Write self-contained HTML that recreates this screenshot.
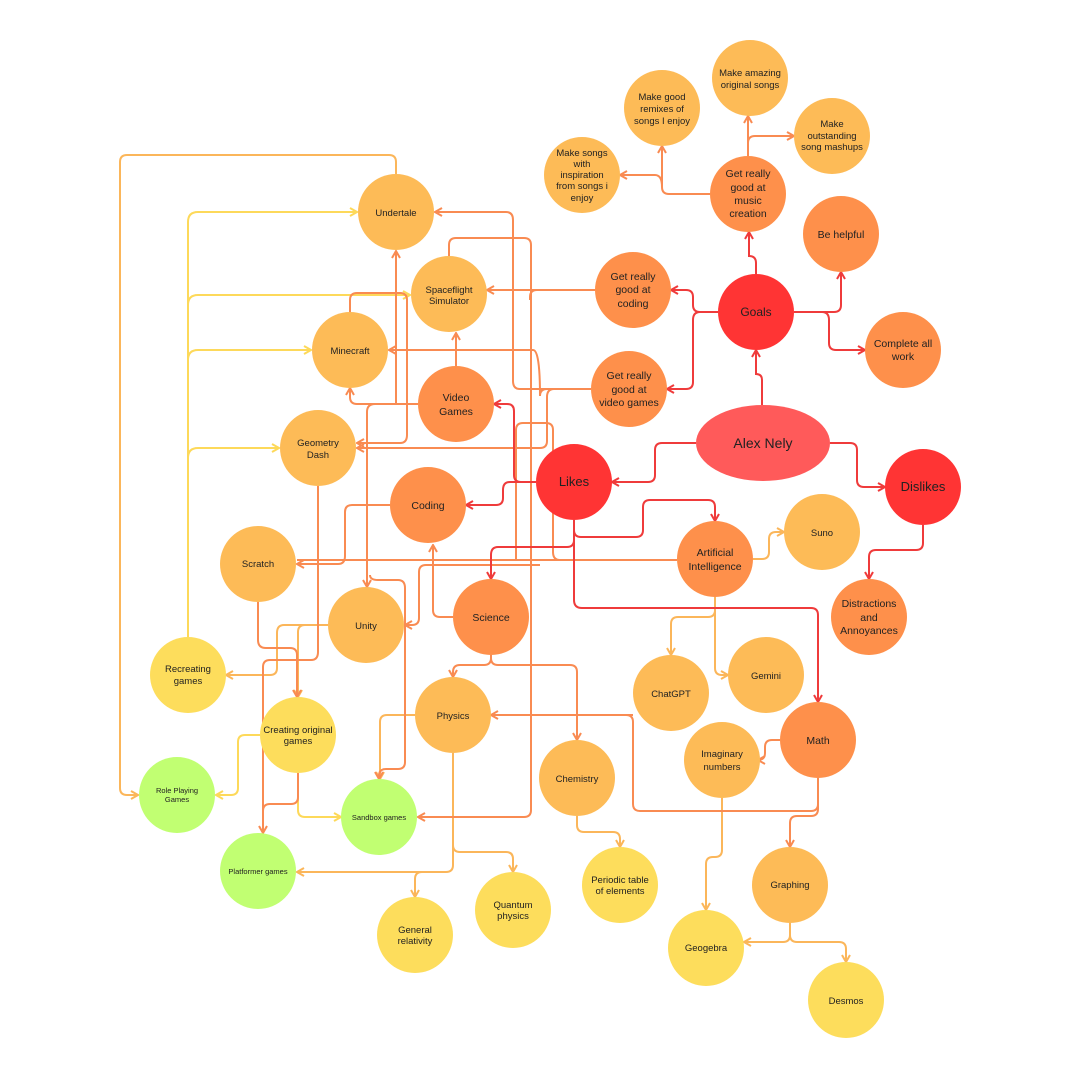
<!DOCTYPE html>
<html><head><meta charset="utf-8"><style>
html,body{margin:0;padding:0;background:#fff}
svg{display:block}
text{font-family:"Liberation Sans",sans-serif;fill:#222;text-anchor:middle}
</style></head><body>
<svg width="1080" height="1080" viewBox="0 0 1080 1080" xmlns="http://www.w3.org/2000/svg">
<defs>
<marker id="mr" viewBox="0 0 10 10" refX="9" refY="5" markerWidth="5" markerHeight="5" orient="auto"><path d="M2,1 L9,5 L2,9" fill="none" stroke="#ef3b3b" stroke-width="2"/></marker>
<marker id="mo" viewBox="0 0 10 10" refX="9" refY="5" markerWidth="5" markerHeight="5" orient="auto"><path d="M2,1 L9,5 L2,9" fill="none" stroke="#f98b52" stroke-width="2"/></marker>
<marker id="ml" viewBox="0 0 10 10" refX="9" refY="5" markerWidth="5" markerHeight="5" orient="auto"><path d="M2,1 L9,5 L2,9" fill="none" stroke="#fbb65a" stroke-width="2"/></marker>
<marker id="my" viewBox="0 0 10 10" refX="9" refY="5" markerWidth="5" markerHeight="5" orient="auto"><path d="M2,1 L9,5 L2,9" fill="none" stroke="#fdd95a" stroke-width="2"/></marker>
</defs>
<g fill="none" stroke-width="2">
<g stroke="#fdd95a">
<path d="M188,637 V222 Q188,212 198,212 H357" marker-end="url(#my)"/>
<path d="M188,305 Q188,295 198,295 H410" marker-end="url(#my)"/>
<path d="M188,360 Q188,350 198,350 H311" marker-end="url(#my)"/>
<path d="M188,458 Q188,448 198,448 H279" marker-end="url(#my)"/>
<path d="M260,735 H245 Q238,735 238,742 V788 Q238,795 231,795 H216" marker-end="url(#my)"/>
<path d="M298,773 V810 Q298,817 305,817 H341" marker-end="url(#my)"/>
</g>
<g stroke="#fbb65a">
<path d="M396,174 V162 Q396,155 389,155 H127 Q120,155 120,162 V788 Q120,795 127,795 H138" marker-end="url(#ml)"/>
<path d="M415,715 H387 Q380,715 380,722 V779" marker-end="url(#ml)"/>
<path d="M453,753 V865 Q453,872 446,872 H297" marker-end="url(#ml)"/>
<path d="M453,845 Q453,852 460,852 H506 Q513,852 513,859 V872" marker-end="url(#ml)"/>
<path d="M440,872 H422 Q415,872 415,879 V897" marker-end="url(#ml)"/>
<path d="M577,816 V825 Q577,832 584,832 H613 Q620,832 620,839 V847" marker-end="url(#ml)"/>
<path d="M722,798 V850 Q722,857 715,857 H713 Q706,857 706,864 V910" marker-end="url(#ml)"/>
<path d="M790,923 V935 Q790,942 783,942 H744" marker-end="url(#ml)"/>
<path d="M790,935 Q790,942 797,942 H839 Q846,942 846,949 V962" marker-end="url(#ml)"/>
<path d="M715,597 V610 Q715,617 708,617 H678 Q671,617 671,624 V655" marker-end="url(#ml)"/>
<path d="M715,600 V668 Q715,675 722,675 H728" marker-end="url(#ml)"/>
<path d="M753,559 H762 Q769,559 769,552 V539 Q769,532 776,532 H784" marker-end="url(#ml)"/>
<path d="M328,625 H305 Q298,625 298,632 V697" marker-end="url(#ml)"/>
<path d="M328,625 H284 Q277,625 277,633 V668 Q277,675 270,675 H226" marker-end="url(#ml)"/>
</g>
<g stroke="#f98b52">
<path d="M418,404 H396 V251" marker-end="url(#mo)"/>
<path d="M418,404 H357 Q350,404 350,397 V388" marker-end="url(#mo)"/>
<path d="M456,366 V333" marker-end="url(#mo)"/>
<path d="M591,389 H520 Q513,389 513,381 V220 Q513,212 506,212 H435" marker-end="url(#mo)"/>
<path d="M449,256 V245 Q449,238 456,238 H524 Q531,238 531,245 V810 Q531,817 524,817 H418" marker-end="url(#mo)"/>
<path d="M595,290 H537 Q530,290 530,297 V300 M595,290 H487" marker-end="url(#mo)"/>
<path d="M350,312 V300 Q350,293 357,293 H400 Q407,293 407,300 V435 Q407,443 400,443 H357" marker-end="url(#mo)"/>
<path d="M591,389 H547 Q540,389 540,396 Q540,350 533,350 H389" marker-end="url(#mo)"/>
<path d="M591,389 H554 Q547,389 547,397 V441 Q547,448 540,448 H357" marker-end="url(#mo)"/>
<path d="M418,404 H375 Q367,404 367,412 V587" marker-end="url(#mo)"/>
<path d="M390,505 H352 Q345,505 345,512 V556 Q345,564 338,564 H297" marker-end="url(#mo)"/>
<path d="M677,560 H297"/>
<path d="M453,617 H440 Q433,617 433,610 V545" marker-end="url(#mo)"/>
<path d="M540,565 H426 Q419,565 419,572 V618 Q419,625 412,625 H405" marker-end="url(#mo)"/>
<path d="M258,602 V640 Q258,648 266,648 H290 Q297,648 297,655 V697" marker-end="url(#mo)"/>
<path d="M318,486 V652 Q318,660 311,660 H270 Q263,660 263,667 V833" marker-end="url(#mo)"/>
<path d="M298,773 V797 Q298,804 291,804 H270 Q263,804 263,811"/>
<path d="M370,575 Q370,580 378,580 H398 Q405,580 405,588 V762 Q405,769 398,769 H386 Q379,769 379,776 V779" marker-end="url(#mo)"/>
<path d="M491,655 V658 Q491,665 484,665 H460 Q453,665 453,672 V677" marker-end="url(#mo)"/>
<path d="M491,658 Q491,665 498,665 H570 Q577,665 577,672 V740" marker-end="url(#mo)"/>
<path d="M633,715 H491" marker-end="url(#mo)"/>
<path d="M633,722 Q633,715 626,715 M633,722 V804 Q633,811 640,811 H811 Q818,811 818,804 V778"/>
<path d="M818,790 V809 Q818,816 811,816 H797 Q790,816 790,823 V847" marker-end="url(#mo)"/>
<path d="M780,740 H772 Q765,740 765,747 V753 Q765,760 758,760" marker-end="url(#mo)"/>
<path d="M748,156 V116" marker-end="url(#mo)"/>
<path d="M748,156 V143 Q748,136 755,136 H794" marker-end="url(#mo)"/>
<path d="M710,194 H669 Q662,194 662,187 V146" marker-end="url(#mo)"/>
<path d="M662,187 Q662,175 655,175 H620" marker-end="url(#mo)"/>
<path d="M677,560 H560 Q553,560 553,552 V430 Q553,423 546,423 H523 Q516,423 516,430 V560"/>
</g>
<g stroke="#ef3b3b">
<path d="M536,482 H521 Q514,482 514,475 V411 Q514,404 507,404 H494" marker-end="url(#mr)"/>
<path d="M536,482 H510 Q503,482 503,490 V498 Q503,505 496,505 H466" marker-end="url(#mr)"/>
<path d="M574,520 V540 Q574,547 567,547 H498 Q491,547 491,555 V579" marker-end="url(#mr)"/>
<path d="M574,520 V600 Q574,608 582,608 H811 Q818,608 818,615 V702" marker-end="url(#mr)"/>
<path d="M574,520 V530 Q574,537 581,537 H636 Q643,537 643,530 V507 Q643,500 650,500 H708 Q715,500 715,507 V521" marker-end="url(#mr)"/>
<path d="M762,405 V380 Q762,374 756,374 V350" marker-end="url(#mr)"/>
<path d="M696,443 H662 Q655,443 655,450 V475 Q655,482 648,482 H612" marker-end="url(#mr)"/>
<path d="M830,443 H850 Q857,443 857,450 V480 Q857,487 864,487 H885" marker-end="url(#mr)"/>
<path d="M923,525 V543 Q923,550 916,550 H876 Q869,550 869,557 V579" marker-end="url(#mr)"/>
<path d="M718,312 H700 Q693,312 693,305 V297 Q693,290 686,290 H671" marker-end="url(#mr)"/>
<path d="M700,312 Q693,312 693,320 V382 Q693,389 686,389 H667" marker-end="url(#mr)"/>
<path d="M756,274 V263 Q756,256 749,256 V232" marker-end="url(#mr)"/>
<path d="M794,312 H834 Q841,312 841,305 V272" marker-end="url(#mr)"/>
<path d="M822,312 Q829,312 829,320 V343 Q829,350 836,350 H865" marker-end="url(#mr)"/>
</g>
</g>
<g>
<circle cx="750" cy="78" r="38" fill="#fdbb57"/>
<circle cx="662" cy="108" r="38" fill="#fdbb57"/>
<circle cx="832" cy="136" r="38" fill="#fdbb57"/>
<circle cx="582" cy="175" r="38" fill="#fdbb57"/>
<circle cx="748" cy="194" r="38" fill="#fe904b"/>
<circle cx="841" cy="234" r="38" fill="#fe904b"/>
<circle cx="756" cy="312" r="38" fill="#ff3434"/>
<circle cx="903" cy="350" r="38" fill="#fe904b"/>
<circle cx="633" cy="290" r="38" fill="#fe904b"/>
<circle cx="629" cy="389" r="38" fill="#fe904b"/>
<ellipse cx="763" cy="443" rx="67" ry="38" fill="#ff5a5a"/>
<circle cx="923" cy="487" r="38" fill="#ff3434"/>
<circle cx="574" cy="482" r="38" fill="#ff3434"/>
<circle cx="396" cy="212" r="38" fill="#fdbb57"/>
<circle cx="449" cy="294" r="38" fill="#fdbb57"/>
<circle cx="350" cy="350" r="38" fill="#fdbb57"/>
<circle cx="456" cy="404" r="38" fill="#fe904b"/>
<circle cx="318" cy="448" r="38" fill="#fdbb57"/>
<circle cx="428" cy="505" r="38" fill="#fe904b"/>
<circle cx="258" cy="564" r="38" fill="#fdbb57"/>
<circle cx="366" cy="625" r="38" fill="#fdbb57"/>
<circle cx="491" cy="617" r="38" fill="#fe904b"/>
<circle cx="715" cy="559" r="38" fill="#fe904b"/>
<circle cx="822" cy="532" r="38" fill="#fdbb57"/>
<circle cx="869" cy="617" r="38" fill="#fe904b"/>
<circle cx="188" cy="675" r="38" fill="#fddd5c"/>
<circle cx="298" cy="735" r="38" fill="#fddd5c"/>
<circle cx="453" cy="715" r="38" fill="#fdbb57"/>
<circle cx="671" cy="693" r="38" fill="#fdbb57"/>
<circle cx="766" cy="675" r="38" fill="#fdbb57"/>
<circle cx="818" cy="740" r="38" fill="#fe904b"/>
<circle cx="722" cy="760" r="38" fill="#fdbb57"/>
<circle cx="577" cy="778" r="38" fill="#fdbb57"/>
<circle cx="177" cy="795" r="38" fill="#c1ff72"/>
<circle cx="379" cy="817" r="38" fill="#c1ff72"/>
<circle cx="258" cy="871" r="38" fill="#c1ff72"/>
<circle cx="620" cy="885" r="38" fill="#fddd5c"/>
<circle cx="513" cy="910" r="38" fill="#fddd5c"/>
<circle cx="415" cy="935" r="38" fill="#fddd5c"/>
<circle cx="790" cy="885" r="38" fill="#fdbb57"/>
<circle cx="706" cy="948" r="38" fill="#fddd5c"/>
<circle cx="846" cy="1000" r="38" fill="#fddd5c"/>
</g>
<g font-size="9.5">
<text x="750" y="76">Make amazing</text><text x="750" y="88">original songs</text>
<text x="662" y="100">Make good</text><text x="662" y="112">remixes of</text><text x="662" y="124">songs I enjoy</text>
<text x="832" y="127">Make</text><text x="832" y="139">outstanding</text><text x="832" y="150">song mashups</text>
<text x="582" y="156">Make songs</text><text x="582" y="167">with</text><text x="582" y="178">inspiration</text><text x="582" y="189">from songs i</text><text x="582" y="201">enjoy</text>
</g>
<g font-size="10.5">
<text x="748" y="177">Get really</text><text x="748" y="191">good at</text><text x="748" y="204">music</text><text x="748" y="217">creation</text>
<text x="841" y="238">Be helpful</text>
<text x="903" y="347">Complete all</text><text x="903" y="360">work</text>
<text x="633" y="280">Get really</text><text x="633" y="293">good at</text><text x="633" y="307">coding</text>
<text x="629" y="379">Get really</text><text x="629" y="393">good at</text><text x="629" y="406">video games</text>
<text x="456" y="401">Video</text><text x="456" y="415">Games</text>
<text x="428" y="509">Coding</text>
<text x="491" y="621">Science</text>
<text x="715" y="556">Artificial</text><text x="715" y="570">Intelligence</text>
<text x="869" y="607">Distractions</text><text x="869" y="621">and</text><text x="869" y="634">Annoyances</text>
<text x="818" y="744">Math</text>
</g>
<g font-size="9.5">
<text x="396" y="216">Undertale</text>
<text x="449" y="293">Spaceflight</text><text x="449" y="304">Simulator</text>
<text x="350" y="354">Minecraft</text>
<text x="318" y="446">Geometry</text><text x="318" y="458">Dash</text>
<text x="258" y="567">Scratch</text>
<text x="366" y="629">Unity</text>
<text x="822" y="536">Suno</text>
<text x="188" y="672">Recreating</text><text x="188" y="684">games</text>
<text x="298" y="733">Creating original</text><text x="298" y="744">games</text>
<text x="453" y="719">Physics</text>
<text x="671" y="697">ChatGPT</text>
<text x="766" y="679">Gemini</text>
<text x="722" y="757">Imaginary</text><text x="722" y="770">numbers</text>
<text x="577" y="782">Chemistry</text>
<text x="620" y="883">Periodic table</text><text x="620" y="894">of elements</text>
<text x="513" y="908">Quantum</text><text x="513" y="919">physics</text>
<text x="415" y="933">General</text><text x="415" y="944">relativity</text>
<text x="790" y="888">Graphing</text>
<text x="706" y="951">Geogebra</text>
<text x="846" y="1004">Desmos</text>
</g>
<g font-size="7.5">
<text x="177" y="793">Role Playing</text><text x="177" y="802">Games</text>
<text x="379" y="820">Sandbox games</text>
<text x="258" y="874">Platformer games</text>
</g>
<text x="756" y="316" font-size="12">Goals</text>
<text x="763" y="448" font-size="14">Alex Nely</text>
<text x="574" y="486" font-size="13">Likes</text>
<text x="923" y="491" font-size="13">Dislikes</text>
</svg>
</body></html>
